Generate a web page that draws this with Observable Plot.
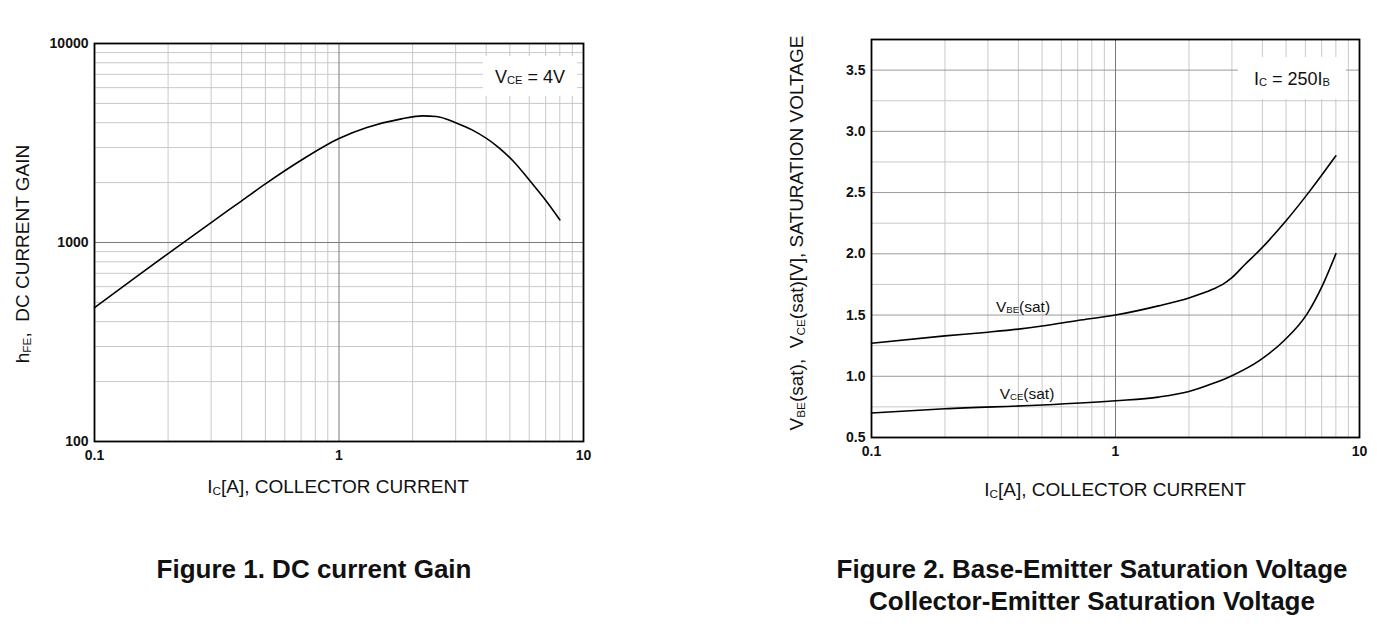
<!DOCTYPE html>
<html><head><meta charset="utf-8">
<script src="https://cdn.jsdelivr.net/npm/d3@7"></script>
<script src="https://cdn.jsdelivr.net/npm/@observablehq/plot@0.6"></script>
<style>
body{margin:0;background:#fff;width:1377px;height:637px;overflow:hidden;font-family:"Liberation Sans",Arial,sans-serif;}
#root{position:relative;width:1377px;height:637px;}
#root svg{position:absolute;overflow:visible;}
.abs{position:absolute;white-space:nowrap;color:#111;line-height:1;}
.c{transform:translate(-50%,-50%);}
.rot{transform:translate(-50%,-50%) rotate(-90deg);}
.sub{font-size:0.62em;vertical-align:-0.12em;}
.title{font-weight:bold;font-size:26px;}
.lab{font-size:19px;}
.box{position:absolute;background:#fff;}
</style></head><body><div id="root"></div>
<script>
// ---- data ----
const xTicks = [0.1, 1, 10];
const xMinor = [0.2,0.3,0.4,0.5,0.6,0.7,0.8,0.9,2,3,4,5,6,7,8,9];
const xMajor = [1];

const hfeTicks = [100, 1000, 10000];
const hfeMinor = [200,300,400,500,600,700,800,900,2000,3000,4000,5000,6000,7000,8000,9000];
const hfeMajor = [1000];
const hfeIc  = [0.1, 0.15, 0.2, 0.3, 0.4, 0.5, 0.7, 1.0, 1.3, 1.8, 2.2, 2.5, 3.0, 3.5, 4.5, 5.2, 6.0, 7.0, 8.0];
const hfeVal = [470, 680, 880, 1260, 1620, 1970, 2590, 3330, 3780, 4180, 4330, 4300, 4000, 3680, 3000, 2540, 2060, 1630, 1300];

const vTicks = [0.5, 1.0, 1.5, 2.0, 2.5, 3.0, 3.5];
const vMinor = [0.75, 1.25, 1.75, 2.25, 2.75, 3.25];
const vbeIc  = [0.1, 0.2, 0.3, 0.4, 0.5, 0.7, 1.0, 1.5, 2.0, 2.5, 2.75, 3.0, 3.4, 3.9, 5.0, 6.3, 8.0];
const vbeVal = [1.27, 1.33, 1.36, 1.385, 1.41, 1.455, 1.50, 1.575, 1.64, 1.71, 1.75, 1.805, 1.915, 2.03, 2.27, 2.52, 2.80];
const vceIc  = [0.1, 0.2, 0.5, 1.0, 1.5, 2.0, 2.5, 3.0, 3.9, 4.9, 6.1, 7.1, 8.0];
const vceVal = [0.70, 0.735, 0.765, 0.80, 0.83, 0.875, 0.94, 1.005, 1.13, 1.29, 1.51, 1.755, 2.0];

const hfeData = hfeIc.map((ic, i) => ({ic, v: hfeVal[i]}));
const vbeData = vbeIc.map((ic, i) => ({ic, v: vbeVal[i]}));
const vceData = vceIc.map((ic, i) => ({ic, v: vceVal[i]}));

const minorColor = "#c9c9c9", majorColor = "#7a7a7a", midColor = "#9a9a9a";
const axisStyle = {fontFamily: "Liberation Sans, Arial, sans-serif", fontSize: "14px", fontWeight: "bold", color: "#111", background: "transparent", overflow: "visible"};

const p1 = Plot.plot({
  width: 618, height: 471, marginLeft: 94, marginTop: 43, marginRight: 35, marginBottom: 30,
  x: {type: "log", domain: [0.1, 10]},
  y: {type: "log", domain: [100, 10000]},
  style: axisStyle,
  marks: [
    Plot.ruleX(xMinor, {stroke: minorColor, strokeWidth: 1}),
    Plot.ruleY(hfeMinor, {stroke: minorColor, strokeWidth: 1}),
    Plot.ruleX(xMajor, {stroke: majorColor, strokeWidth: 1}),
    Plot.ruleY(hfeMajor, {stroke: majorColor, strokeWidth: 1}),
    Plot.line(hfeData, {x: "ic", y: "v", curve: "monotone-x", stroke: "#000", strokeWidth: 1.6}),
    Plot.frame({stroke: "#000", strokeWidth: 1.8}),
    Plot.axisX(xTicks, {tickSize: 0, tickPadding: 9, tickFormat: d => String(d), label: null}),
    Plot.axisY(hfeTicks, {tickSize: 0, tickPadding: 6, tickFormat: d => String(d), label: null})
  ]
});
p1.style.left = "0px"; p1.style.top = "0px";

const p2 = Plot.plot({
  width: 614, height: 467, marginLeft: 111, marginTop: 39, marginRight: 15, marginBottom: 30,
  x: {type: "log", domain: [0.1, 10]},
  y: {domain: [0.5, 3.75]},
  style: axisStyle,
  marks: [
    Plot.ruleX(xMinor, {stroke: minorColor, strokeWidth: 1}),
    Plot.ruleY(vMinor, {stroke: minorColor, strokeWidth: 1}),
    Plot.ruleY(vTicks, {stroke: midColor, strokeWidth: 1}),
    Plot.ruleX(xMajor, {stroke: majorColor, strokeWidth: 1}),
    Plot.line(vbeData, {x: "ic", y: "v", curve: "monotone-x", stroke: "#000", strokeWidth: 1.6}),
    Plot.line(vceData, {x: "ic", y: "v", curve: "monotone-x", stroke: "#000", strokeWidth: 1.6}),
    Plot.frame({stroke: "#000", strokeWidth: 1.8}),
    Plot.axisX(xTicks, {tickSize: 0, tickPadding: 9, tickFormat: d => String(d), label: null}),
    Plot.axisY(vTicks, {tickSize: 0, tickPadding: 6, tickFormat: d3.format(".1f"), label: null})
  ]
});
p2.style.left = "760px"; p2.style.top = "0px";

const root = document.getElementById("root");
root.appendChild(p1);
root.appendChild(p2);

function box(x, y, w, h) {
  const d = document.createElement("div");
  d.className = "box";
  Object.assign(d.style, {left: x + "px", top: y + "px", width: w + "px", height: h + "px"});
  root.appendChild(d);
}
function txt(html, x, y, cls, size) {
  const d = document.createElement("div");
  d.className = "abs " + cls;
  d.innerHTML = html;
  d.style.left = x + "px"; d.style.top = y + "px";
  if (size) d.style.fontSize = size + "px";
  root.appendChild(d);
}
box(483, 56, 94, 40);
box(1238, 57, 108, 42);

txt('V<span class="sub">CE</span> = 4V', 530, 77, "c", 18);
txt('I<span class="sub">C</span> = 250I<span class="sub">B</span>', 1292, 79, "c", 18);
txt('V<span class="sub">BE</span>(sat)', 1023, 307, "c", 15.5);
txt('V<span class="sub">CE</span>(sat)', 1027, 394, "c", 15.5);

txt('I<span class="sub">C</span>[A], COLLECTOR CURRENT', 338, 487, "c lab");
txt('I<span class="sub">C</span>[A], COLLECTOR CURRENT', 1115, 490, "c lab");
txt('h<span class="sub">FE</span>,&nbsp; DC CURRENT GAIN', 23, 254, "rot lab");
txt('V<span class="sub">BE</span>(sat), &nbsp;V<span class="sub">CE</span>(sat)[V], SATURATION VOLTAGE', 797, 233, "rot lab");

txt('Figure 1. DC current Gain', 314, 569, "c title");
txt('Figure 2. Base-Emitter Saturation Voltage', 1092, 569, "c title");
txt('Collector-Emitter Saturation Voltage', 1092, 601, "c title");
</script></body></html>
